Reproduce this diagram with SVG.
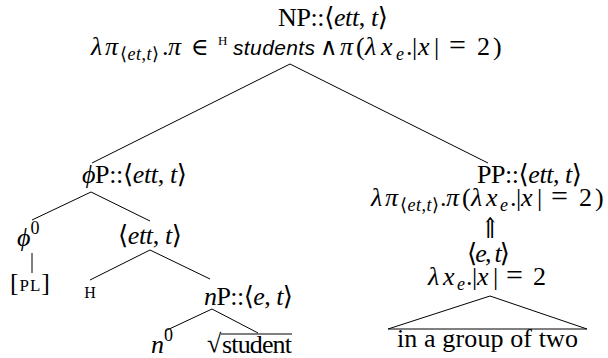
<svg xmlns="http://www.w3.org/2000/svg" width="608" height="358" viewBox="0 0 608 358">
<style>
text{font-family:"Liberation Serif","DejaVu Serif",serif;font-size:26px;fill:#000}
.i{font-style:italic}
.sub{font-size:18px;letter-spacing:0.5px}
.se{font-size:18px}
.op{font-family:"DejaVu Serif",serif;font-size:24px}
.eq{font-size:30px}
.sans{font-family:"Liberation Sans","DejaVu Sans",sans-serif;font-style:italic;font-size:21px}
.c{text-anchor:middle}
line,polygon{stroke:#000;stroke-width:1;fill:none}
</style>
<rect width="608" height="358" fill="#fff"/>
<g id="connectors">
<line x1="290" y1="64" x2="92" y2="163"/>
<line x1="290" y1="64" x2="488" y2="163"/>
<line x1="91" y1="192" x2="32" y2="220"/>
<line x1="91" y1="192" x2="150" y2="221"/>
<line x1="32" y1="253" x2="32" y2="273"/>
<line x1="150" y1="250" x2="90" y2="280"/>
<line x1="150" y1="250" x2="210" y2="279"/>
<line x1="212" y1="309" x2="165" y2="331"/>
<line x1="212" y1="309" x2="258" y2="333"/>
<polygon points="490,296 388,329 587,329"/>
</g>
<g id="np">
<text class="c" x="333" y="26" textLength="110">NP::⟨<tspan class="i">ett</tspan>, <tspan class="i">t</tspan>⟩</text>
<text y="55"><tspan class="i" x="91">λ</tspan><tspan class="i" x="105">π</tspan><tspan class="sub" x="120" y="60">⟨<tspan class="i">et</tspan>,<tspan class="i">t</tspan>⟩</tspan><tspan x="162" y="55">.</tspan><tspan class="i" x="168">π</tspan><tspan class="op" x="191">∈</tspan><tspan x="218" y="45" style="font-size:13px">H</tspan><tspan class="sans" x="233" y="55" textLength="82">students</tspan><tspan class="op" x="320">∧</tspan><tspan class="i" x="340">π</tspan><tspan x="356">(</tspan><tspan class="i" x="365">λ</tspan><tspan class="i" x="381">x</tspan><tspan class="se i" x="396" y="60">e</tspan><tspan x="406" y="55">.</tspan><tspan x="412">|</tspan><tspan class="i" x="418">x</tspan><tspan x="434">|</tspan><tspan class="eq" x="449">=</tspan><tspan x="477">2</tspan><tspan x="493">)</tspan></text>
</g>
<g id="phiP">
<text class="c" x="134.5" y="183" textLength="105"><tspan class="i">ϕ</tspan>P::⟨<tspan class="i">ett</tspan>, <tspan class="i">t</tspan>⟩</text>
</g>
<g id="phi0">
<text x="17" y="246"><tspan class="i">ϕ</tspan><tspan class="se" y="234">0</tspan></text>
</g>
<g id="pl">
<text class="c" x="30" y="291" textLength="40">[<tspan style="font-size:17px">PL</tspan>]</text>
</g>
<g id="ett">
<text class="c" x="150" y="244" textLength="64">⟨<tspan class="i">ett</tspan>, <tspan class="i">t</tspan>⟩</text>
</g>
<g id="h">
<text class="c" x="90" y="298" style="font-size:16px">H</text>
</g>
<g id="nP">
<text class="c" x="248.5" y="305" textLength="89"><tspan class="i">n</tspan>P::⟨<tspan class="i">e</tspan>, <tspan class="i">t</tspan>⟩</text>
</g>
<g id="n0">
<text x="151" y="353"><tspan class="i">n</tspan><tspan class="se" y="341">0</tspan></text>
</g>
<g id="root">
<text x="207" y="352" style="font-size:26px">√</text>
<line x1="221" y1="334" x2="292" y2="334"/>
<text x="222" y="353" textLength="70">student</text>
</g>
<g id="PP">
<text class="c" x="529.5" y="183" textLength="105">PP::⟨<tspan class="i">ett</tspan>, <tspan class="i">t</tspan>⟩</text>
<text y="206"><tspan class="i" x="371">λ</tspan><tspan class="i" x="385">π</tspan><tspan class="sub" x="400" y="211">⟨<tspan class="i">et</tspan>,<tspan class="i">t</tspan>⟩</tspan><tspan x="440" y="206">.</tspan><tspan class="i" x="446">π</tspan><tspan x="462">(</tspan><tspan class="i" x="471">λ</tspan><tspan class="i" x="486">x</tspan><tspan class="se i" x="500" y="211">e</tspan><tspan x="510" y="206">.</tspan><tspan x="516">|</tspan><tspan class="i" x="521">x</tspan><tspan x="537">|</tspan><tspan class="eq" x="551">=</tspan><tspan x="579">2</tspan><tspan x="595">)</tspan></text>
</g>
<g id="arrow">
<text class="c" transform="translate(490,238) scale(1,1.3)" x="0" y="0" style="font-size:22px">⇑</text>
</g>
<g id="et">
<text class="c" x="488.5" y="262" textLength="43">⟨<tspan class="i">e</tspan>, <tspan class="i">t</tspan>⟩</text>
<text y="285"><tspan class="i" x="428">λ</tspan><tspan class="i" x="443">x</tspan><tspan class="se i" x="457" y="290">e</tspan><tspan x="466" y="285">.</tspan><tspan x="472">|</tspan><tspan class="i" x="477">x</tspan><tspan x="493">|</tspan><tspan class="eq" x="506">=</tspan><tspan x="533">2</tspan></text>
</g>
<g id="group">
<text class="c" x="487.5" y="347" textLength="181">in a group of two</text>
</g>
</svg>
